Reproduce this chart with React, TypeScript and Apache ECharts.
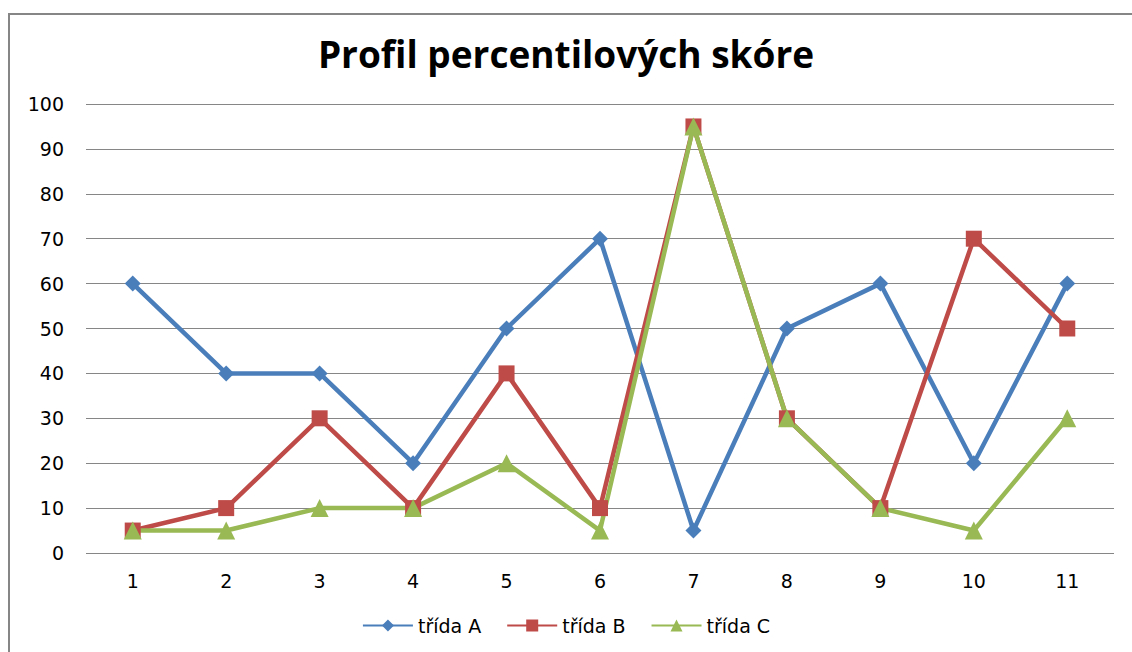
import React, { useEffect, useRef } from "react";
import * as echarts from "echarts";

const categories = ["1", "2", "3", "4", "5", "6", "7", "8", "9", "10", "11"];
const seriesNames = ["třída A", "třída B", "třída C"];
const tridaA = [60, 40, 40, 20, 50, 70, 5, 50, 60, 20, 60];
const tridaB = [5, 10, 30, 10, 40, 10, 95, 30, 10, 70, 50];
const tridaC = [5, 5, 10, 10, 20, 5, 95, 30, 10, 5, 30];
const title = "Profil percentilových skóre";

export default function App() {
  const ref = useRef<HTMLDivElement>(null);
  useEffect(() => {
    if (!ref.current) return;
    const chart = echarts.init(ref.current, null, { renderer: "svg" });
    const font = "'Open Sans', sans-serif";
    const labelFont = "'DejaVu Sans', sans-serif";
    const colors = ["#4A7EBB", "#BE4B48", "#98B954"];
    const symbols = ["diamond", "rect", "triangle"];
    const sizes = [16, 16, 18];
    const data = [tridaA, tridaB, tridaC];
    chart.setOption({
      animation: false,
      backgroundColor: "#fff",
      color: colors,
      title: {
        text: title,
        left: "center",
        top: 30,
        textStyle: { fontFamily: font, fontWeight: "bold", fontSize: 37, color: "#000" },
      },
      graphic: [
        {
          type: "rect",
          shape: { x: 9, y: 14, width: 1140, height: 660 },
          style: { fill: "none", stroke: "#868686", lineWidth: 2 },
          silent: true,
        },
      ],
      legend: {
        bottom: 12,
        left: "center",
        itemWidth: 50,
        itemHeight: 15,
        itemGap: 25,
        textStyle: { fontFamily: labelFont, fontSize: 19, color: "#000" },
        data: seriesNames,
      },
      grid: { left: 86, right: 18, top: 104, bottom: 99, containLabel: false },
      xAxis: {
        type: "category",
        data: categories,
        boundaryGap: true,
        axisLine: { show: false },
        axisTick: { show: false },
        axisLabel: { fontFamily: labelFont, fontSize: 19, color: "#000", margin: 18 },
      },
      yAxis: {
        type: "value",
        min: 0,
        max: 100,
        interval: 10,
        axisLine: { show: false },
        axisTick: { show: false },
        axisLabel: { fontFamily: labelFont, fontSize: 19, color: "#000", margin: 22 },
        splitLine: { lineStyle: { color: "#868686", width: 1 } },
      },
      series: seriesNames.map((n, i) => ({
        name: n,
        type: "line",
        data: data[i],
        symbol: symbols[i],
        symbolSize: sizes[i],
        lineStyle: { width: 4.5, color: colors[i] },
        itemStyle: { color: colors[i] },
      })),
    });
    return () => chart.dispose();
  }, []);
  return <div ref={ref} style={{ width: 1132, height: 652, position: "absolute", left: 0, top: 0 }} />;
}
